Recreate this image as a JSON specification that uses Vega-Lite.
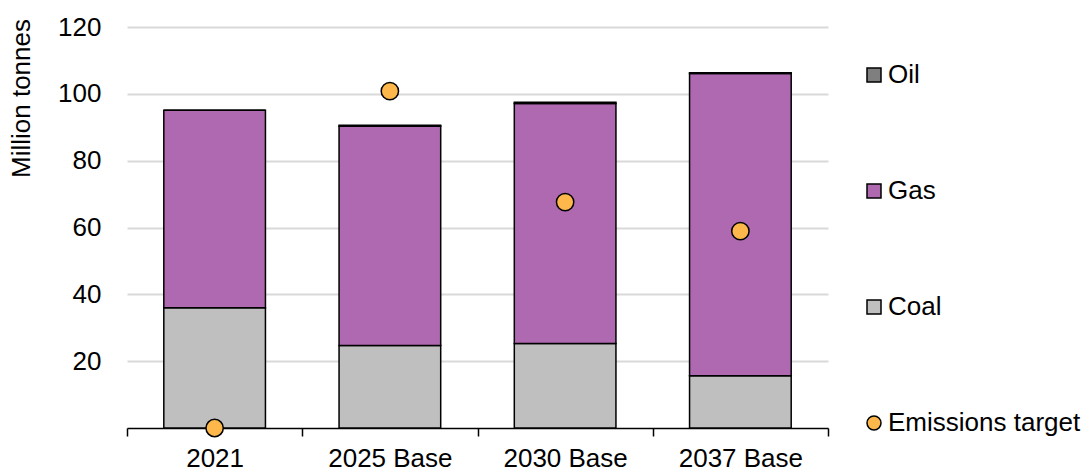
{
  "$schema": "https://vega.github.io/schema/vega-lite/v6.json",
  "autosize": "none",
  "width": 701,
  "height": 401,
  "padding": {"left": 127, "top": 27, "right": 258, "bottom": 43},
  "background": "white",
  "config": {
    "font": "Liberation Sans",
    "view": {"stroke": null}
  },
  "datasets": {
    "sources": [
      {"case": "2021", "series": "Coal", "mt": 36.0},
      {"case": "2021", "series": "Gas", "mt": 59.1},
      {"case": "2021", "series": "Oil", "mt": 0.0},
      {"case": "2025 Base", "series": "Coal", "mt": 24.7},
      {"case": "2025 Base", "series": "Gas", "mt": 65.6},
      {"case": "2025 Base", "series": "Oil", "mt": 0.3},
      {"case": "2030 Base", "series": "Coal", "mt": 25.3},
      {"case": "2030 Base", "series": "Gas", "mt": 71.8},
      {"case": "2030 Base", "series": "Oil", "mt": 0.4},
      {"case": "2037 Base", "series": "Coal", "mt": 15.6},
      {"case": "2037 Base", "series": "Gas", "mt": 90.5},
      {"case": "2037 Base", "series": "Oil", "mt": 0.2}
    ],
    "targets": [
      {"case": "2021", "series": "Emissions target", "mt": 0},
      {"case": "2025 Base", "series": "Emissions target", "mt": 100.8},
      {"case": "2030 Base", "series": "Emissions target", "mt": 67.6},
      {"case": "2037 Base", "series": "Emissions target", "mt": 58.9}
    ]
  },
  "encoding": {
    "x": {
      "field": "case",
      "type": "nominal",
      "sort": ["2021", "2025 Base", "2030 Base", "2037 Base"],
      "scale": {"paddingInner": 0, "paddingOuter": 0},
      "axis": {
        "title": null,
        "labelAngle": 0,
        "labelFontSize": 26,
        "labelColor": "black",
        "labelPadding": 9,
        "labelLimit": 0,
        "tickBand": "extent",
        "tickSize": 8,
        "tickColor": "black",
        "tickWidth": 1.5,
        "domainColor": "black",
        "domainWidth": 1.5,
        "grid": false
      }
    }
  },
  "layer": [
    {
      "data": {"name": "sources"},
      "mark": {"type": "bar", "width": {"band": 0.58}, "stroke": "black", "strokeWidth": 1.5},
      "encoding": {
        "y": {
          "field": "mt",
          "type": "quantitative",
          "stack": "zero",
          "scale": {"domain": [0, 120], "nice": false},
          "axis": {
            "title": "Million tonnes",
            "titleFontSize": 26,
            "titleFontWeight": "normal",
            "titleColor": "black",
            "titlePadding": 23,
            "titleY": 71,
            "values": [20, 40, 60, 80, 100, 120],
            "labelFontSize": 26,
            "labelColor": "black",
            "labelPadding": 26,
            "ticks": false,
            "domain": false,
            "grid": true,
            "gridColor": "#D9D9D9",
            "gridWidth": 2
          }
        },
        "order": {"field": "series", "sort": "ascending"},
        "color": {
          "field": "series",
          "type": "nominal",
          "scale": {
            "domain": ["Oil", "Gas", "Coal", "Emissions target"],
            "range": ["#7F7F7F", "#AF69B0", "#BFBFBF", "#FDB74A"]
          },
          "legend": {
            "title": null,
            "orient": "none",
            "legendX": 734,
            "legendY": 35,
            "symbolType": "square",
            "symbolSize": 196,
            "symbolStrokeColor": "black",
            "symbolStrokeWidth": 1.5,
            "symbolOpacity": 1,
            "labelFontSize": 26,
            "labelColor": "black",
            "labelOffset": 1,
            "labelLimit": 0,
            "rowPadding": 90,
            "encode": {
              "symbols": {
                "update": {
                  "shape": {"signal": "datum.value === 'Emissions target' ? 'circle' : 'square'"},
                  "stroke": {"value": "black"},
                  "strokeWidth": {"value": 1.5}
                }
              }
            }
          }
        }
      }
    },
    {
      "data": {"name": "targets"},
      "mark": {"type": "point", "shape": "circle", "filled": true, "size": 300, "stroke": "black", "strokeWidth": 1.5, "opacity": 1},
      "encoding": {
        "y": {"field": "mt", "type": "quantitative"},
        "color": {"field": "series", "type": "nominal", "legend": null}
      }
    }
  ]
}
